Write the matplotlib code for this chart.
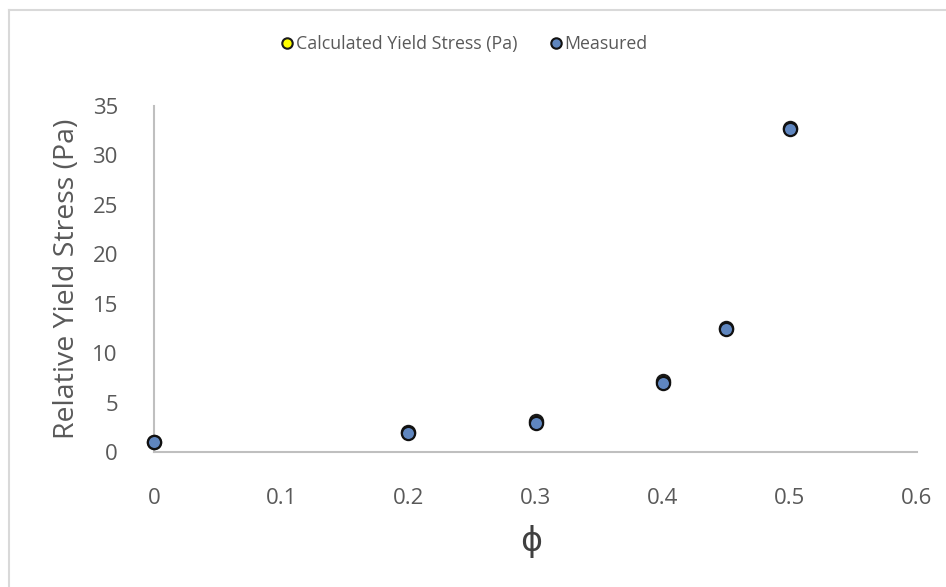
import matplotlib
matplotlib.use("Agg")
import matplotlib.pyplot as plt
from matplotlib.lines import Line2D

plt.rcParams['font.family'] = ['Open Sans', 'DejaVu Sans']

# Volume fraction and yield stress values
phi = [0.0, 0.2, 0.3, 0.4, 0.45, 0.5]
calculated = [1.0, 2.0, 3.1, 7.2, 12.5, 32.8]
measured = [1.0, 1.9, 2.9, 7.0, 12.4, 32.7]

x_ticks = [0, 0.1, 0.2, 0.3, 0.4, 0.5, 0.6]
y_ticks = [0, 5, 10, 15, 20, 25, 30, 35]

text_color = '#595959'
axis_color = '#bfbfbf'

fig = plt.figure(figsize=(9.46, 5.87), dpi=100)
ax = fig.add_axes([154 / 946, 1 - 452 / 587, (917 - 154) / 946, (452 - 106) / 587])

ax.plot(phi, calculated, linestyle='none', marker='o', markersize=9.5,
        markerfacecolor='#ffff00', markeredgecolor='#1a1a1a', markeredgewidth=1.6,
        label='Calculated Yield Stress (Pa)', zorder=3)
ax.plot(phi, measured, linestyle='none', marker='o', markersize=9.5,
        markerfacecolor='#5f86bf', markeredgecolor='#111111', markeredgewidth=1.6,
        label='Measured', zorder=4)

ax.set_xlim(0, 0.6)
ax.set_ylim(0, 35)
ax.set_xticks(x_ticks)
ax.set_xticklabels([f'{v:g}' for v in x_ticks])
ax.set_yticks(y_ticks)
ax.set_yticklabels([str(v) for v in y_ticks])

for side in ['top', 'right']:
    ax.spines[side].set_visible(False)
for side in ['left', 'bottom']:
    ax.spines[side].set_color(axis_color)
    ax.spines[side].set_linewidth(1.5)

ax.tick_params(axis='both', length=0, labelsize=16, labelcolor=text_color)
ax.tick_params(axis='x', pad=26)
ax.tick_params(axis='y', pad=26)
for line in ax.lines:
    line.set_clip_on(False)

ax.set_ylabel('Relative Yield Stress (Pa)', fontsize=20.5, color=text_color, labelpad=8)
fig.text(531 / 946, 1 - 541 / 587, 'ϕ', fontsize=24, color='#404040',
         ha='center', va='center', family=['DejaVu Sans'])

handles = [
    Line2D([], [], linestyle='none', marker='o', markersize=7.5,
           markerfacecolor='#ffff00', markeredgecolor='#1a1a1a', markeredgewidth=1.5),
    Line2D([], [], linestyle='none', marker='o', markersize=7.5,
           markerfacecolor='#5f86bf', markeredgecolor='#111111', markeredgewidth=1.5),
]
fig.legend(handles, ['Calculated Yield Stress (Pa)', 'Measured'],
           loc='center', bbox_to_anchor=(0.49, 1 - 44 / 587), ncol=2, frameon=False,
           fontsize=12.8, labelcolor=text_color, handletextpad=0.05, columnspacing=1.7,
           handlelength=0.9)

# light frame around the chart area
fig.add_artist(Line2D([9 / 946, 9 / 946], [0, 1 - 10 / 587], color='#d9d9d9',
                      linewidth=1.5, transform=fig.transFigure))
fig.add_artist(Line2D([9 / 946, 1], [1 - 10 / 587, 1 - 10 / 587], color='#d9d9d9',
                      linewidth=1.5, transform=fig.transFigure))

fig.savefig('out.png', dpi=100)
